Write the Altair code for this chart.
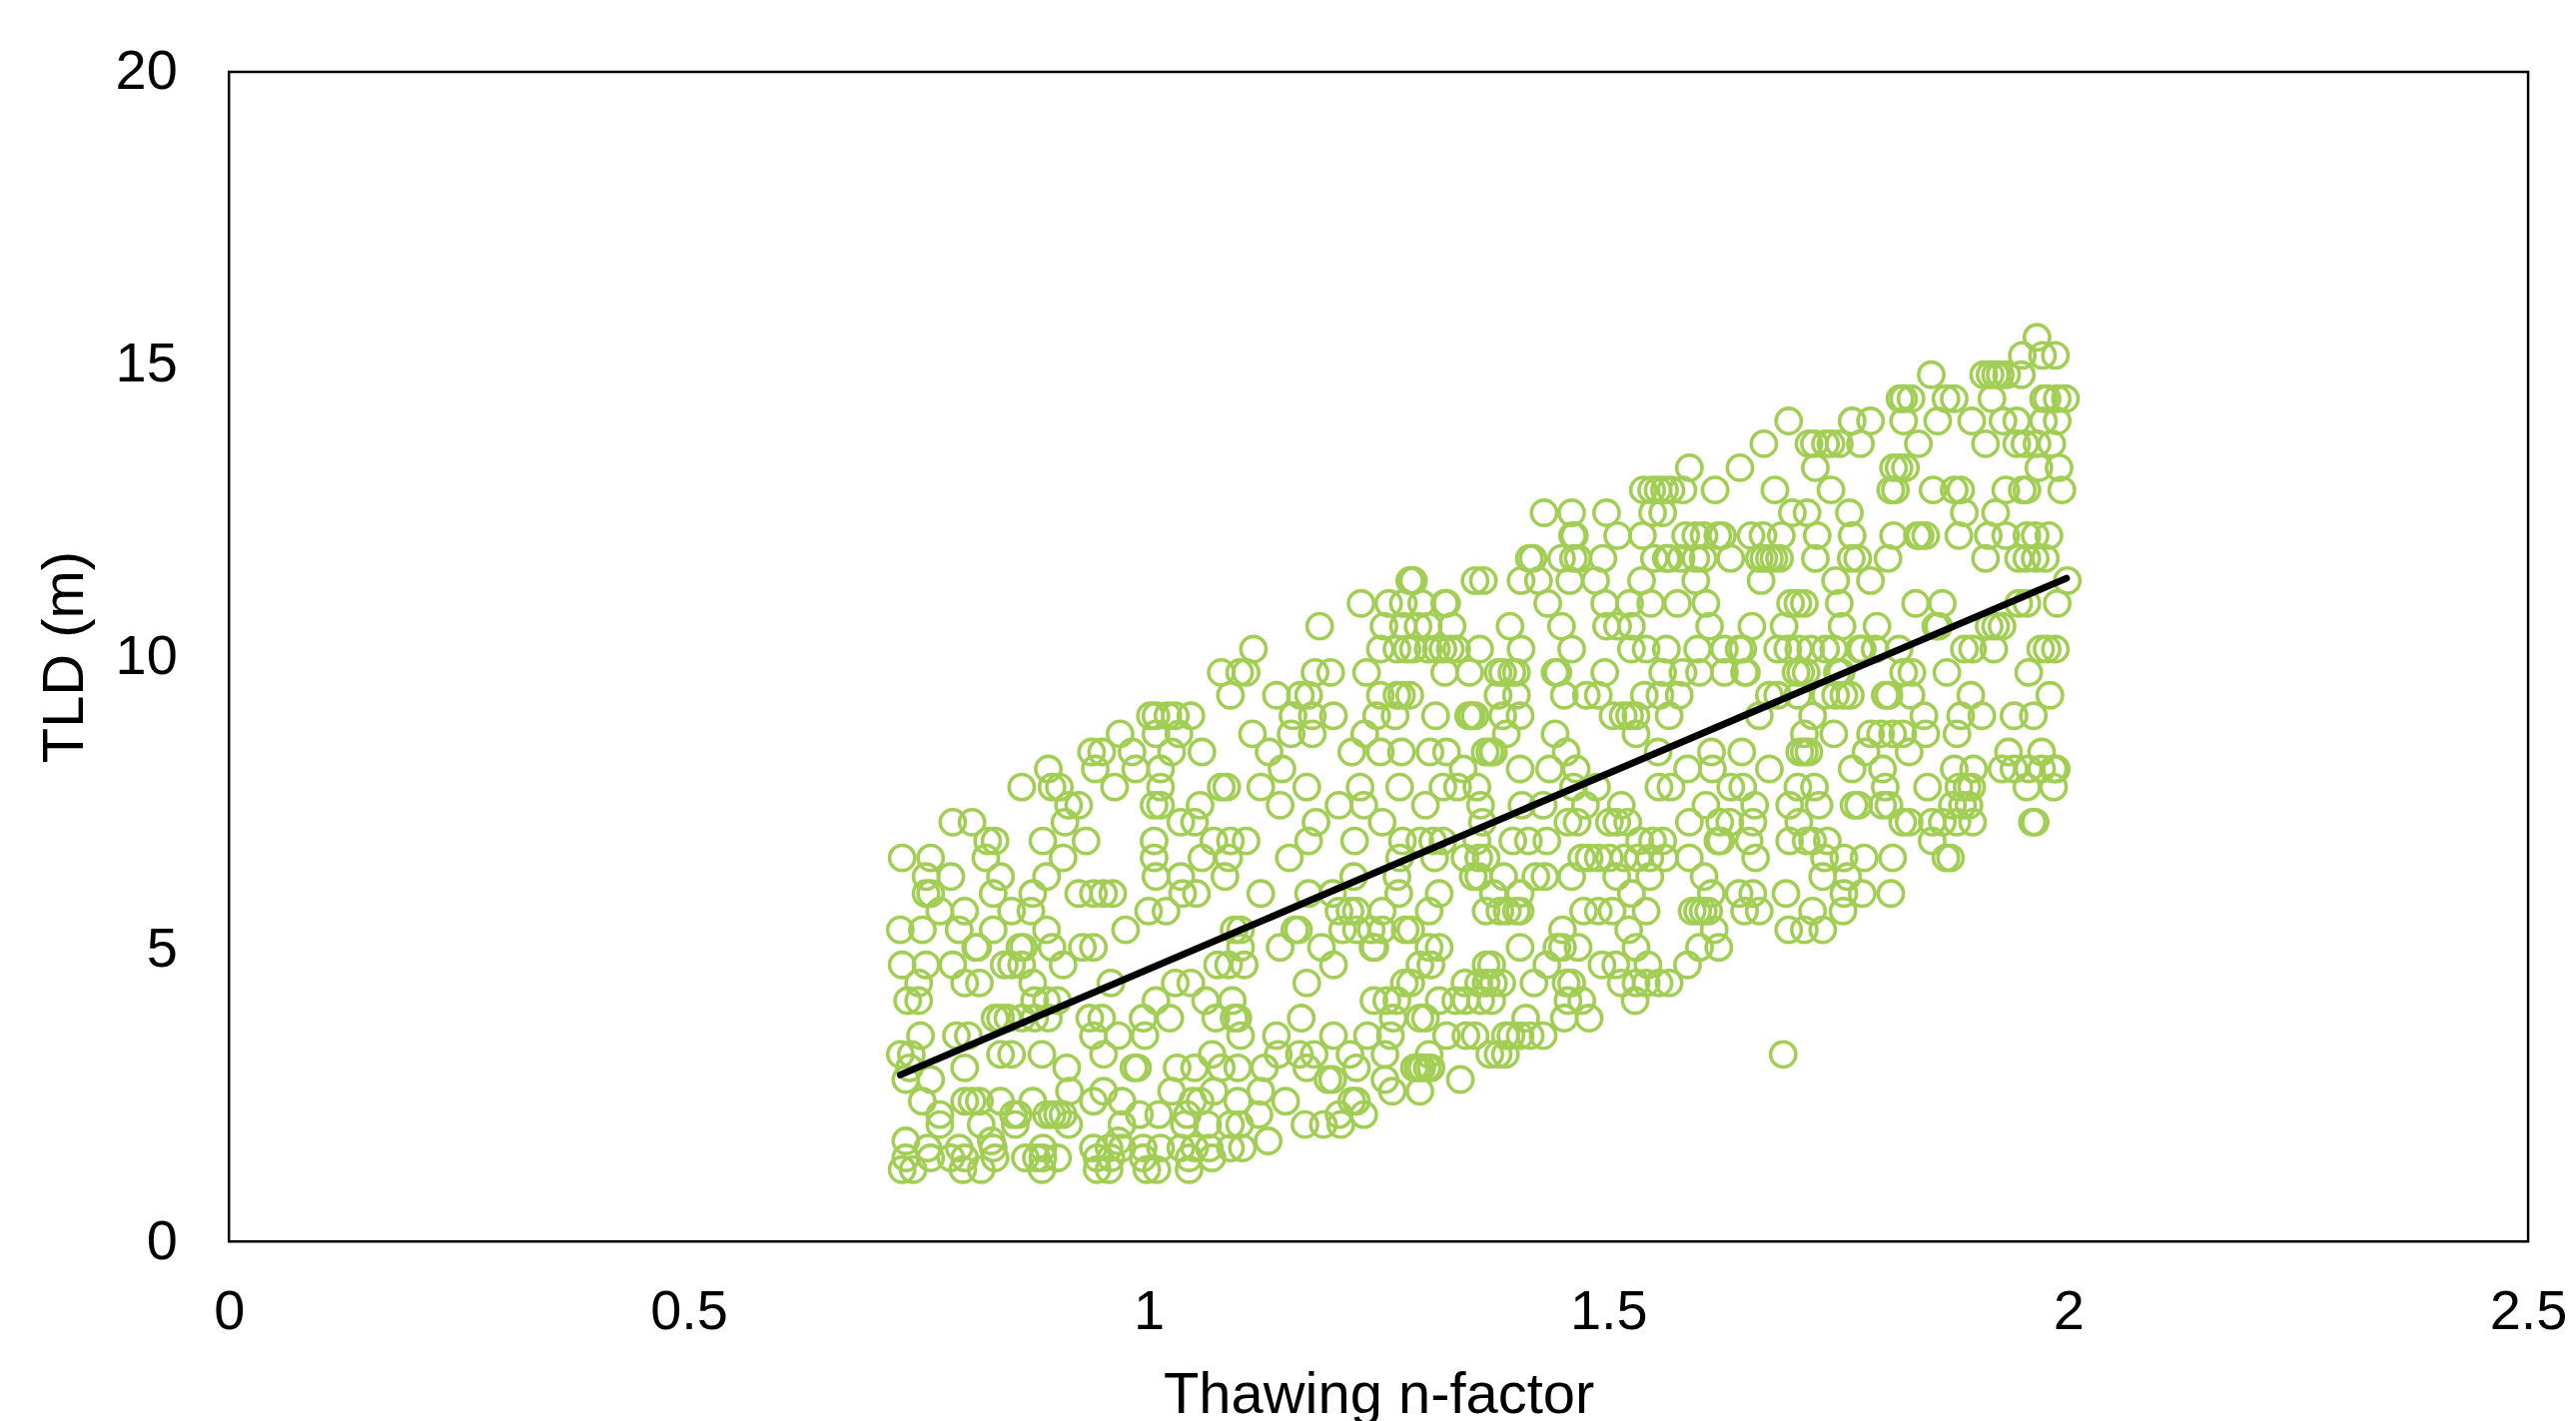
import altair as alt
import pandas as pd

ROWS = {
15.46: [1.966],
15.15: [1.950,1.972,1.986],
14.82: [1.851,1.908,1.915,1.921,1.926,1.933,1.949],
14.41: [1.817,1.821,1.829,1.867,1.876,1.917,1.973,1.977,1.988,1.997],
14.03: [1.696,1.765,1.785,1.821,1.858,1.895,1.929,1.944,1.973,1.988],
13.64: [1.669,1.718,1.724,1.736,1.742,1.751,1.774,1.837,1.910,1.944,1.953,1.966,1.982],
13.23: [1.588,1.643,1.725,1.810,1.816,1.823,1.968,1.990],
12.85: [1.538,1.547,1.554,1.561,1.568,1.581,1.616,1.681,1.742,1.807,1.812,1.853,1.876,1.883,1.932,1.950,1.955,1.993],
12.46: [1.430,1.460,1.498,1.548,1.559,1.700,1.716,1.762,1.887,1.921],
12.07: [1.461,1.463,1.510,1.537,1.584,1.595,1.604,1.619,1.624,1.655,1.668,1.688,1.727,1.765,1.810,1.836,1.839,1.845,1.881,1.913,1.932,1.955,1.964,1.979],
11.68: [1.414,1.418,1.449,1.462,1.467,1.494,1.550,1.563,1.566,1.579,1.595,1.603,1.633,1.664,1.669,1.675,1.680,1.686,1.725,1.764,1.771,1.804,1.910,1.946,1.955,1.964,1.975],
11.30: [1.284,1.286,1.288,1.355,1.364,1.405,1.424,1.458,1.486,1.536,1.595,1.666,1.747,1.785,1.999],
10.91: [1.231,1.261,1.277,1.297,1.322,1.324,1.434,1.496,1.523,1.546,1.575,1.606,1.698,1.706,1.713,1.751,1.834,1.863,1.946,1.955,1.988],
10.52: [1.186,1.256,1.277,1.293,1.304,1.330,1.393,1.449,1.498,1.510,1.525,1.610,1.656,1.691,1.754,1.792,1.856,1.859,1.914,1.921,1.928],
10.13: [1.114,1.252,1.270,1.281,1.288,1.304,1.313,1.320,1.328,1.335,1.360,1.405,1.460,1.525,1.541,1.563,1.597,1.626,1.642,1.646,1.684,1.695,1.707,1.720,1.736,1.745,1.773,1.776,1.790,1.816,1.887,1.896,1.919,1.970,1.977,1.986],
9.73: [1.079,1.099,1.106,1.181,1.198,1.237,1.322,1.349,1.380,1.385,1.395,1.400,1.442,1.445,1.496,1.559,1.581,1.599,1.626,1.648,1.650,1.704,1.709,1.715,1.749,1.753,1.821,1.830,1.868,1.957],
9.34: [1.089,1.139,1.165,1.174,1.252,1.270,1.275,1.284,1.380,1.400,1.452,1.476,1.489,1.539,1.556,1.577,1.675,1.684,1.706,1.736,1.747,1.756,1.763,1.801,1.805,1.829,1.894,1.980],
8.99: [1.002,1.008,1.021,1.029,1.046,1.157,1.178,1.201,1.248,1.268,1.312,1.348,1.351,1.355,1.385,1.404,1.505,1.516,1.523,1.530,1.566,1.664,1.722,1.843,1.883,1.906,1.941,1.962],
8.68: [0.969,1.008,1.033,1.113,1.155,1.178,1.235,1.389,1.442,1.530,1.713,1.745,1.785,1.796,1.809,1.820,1.845,1.879],
8.37: [0.938,0.949,0.982,1.025,1.058,1.131,1.221,1.252,1.275,1.306,1.324,1.366,1.371,1.375,1.454,1.554,1.612,1.645,1.708,1.713,1.718,1.780,1.827,1.935,1.971],
8.08: [0.891,0.942,0.986,1.013,1.145,1.342,1.404,1.436,1.465,1.586,1.613,1.675,1.765,1.798,1.876,1.897,1.928,1.941,1.957,1.971,1.984,1.987],
7.77: [0.862,0.895,0.903,0.963,1.013,1.079,1.085,1.122,1.172,1.230,1.273,1.320,1.336,1.357,1.462,1.487,1.555,1.568,1.633,1.646,1.706,1.724,1.801,1.847,1.881,1.890,1.895,1.955,1.984],
7.46: [0.913,0.924,1.006,1.013,1.056,1.143,1.207,1.234,1.301,1.361,1.406,1.429,1.475,1.514,1.606,1.659,1.697,1.729,1.767,1.772,1.798,1.805,1.874,1.885,1.892],
7.17: [0.787,0.808,0.909,1.035,1.050,1.182,1.254,1.363,1.456,1.466,1.501,1.509,1.521,1.588,1.621,1.632,1.657,1.707,1.820,1.827,1.852,1.863,1.879,1.896,1.961,1.964],
6.85: [0.825,0.833,0.885,0.932,1.006,1.071,1.089,1.106,1.174,1.224,1.276,1.295,1.309,1.320,1.357,1.396,1.413,1.433,1.534,1.548,1.559,1.619,1.622,1.653,1.697,1.715,1.722,1.738,1.852],
6.56: [0.732,0.763,0.823,0.907,1.006,1.058,1.087,1.153,1.273,1.311,1.344,1.359,1.367,1.471,1.479,1.489,1.501,1.517,1.532,1.545,1.561,1.588,1.660,1.735,1.756,1.778,1.809,1.867,1.872],
6.24: [0.758,0.785,0.839,0.889,1.008,1.035,1.083,1.223,1.27,1.353,1.359,1.386,1.421,1.431,1.460,1.509,1.545,1.604,1.733,1.760],
5.95: [0.758,0.763,0.831,0.874,0.924,0.940,0.951,0.961,1.037,1.052,1.122,1.174,1.2,1.272,1.316,1.375,1.404,1.525,1.612,1.642,1.657,1.693,1.756,1.776,1.807],
5.65: [0.773,0.8,0.851,0.872,1.0,1.019,1.207,1.219,1.226,1.254,1.305,1.367,1.382,1.390,1.400,1.404,1.473,1.489,1.504,1.541,1.591,1.597,1.603,1.609,1.648,1.664,1.722,1.755],
5.33: [0.73,0.754,0.794,0.831,0.889,0.975,1.093,1.1,1.159,1.163,1.211,1.226,1.242,1.254,1.279,1.285,1.450,1.522,1.615,1.696,1.713,1.733],
5.03: [0.812,0.814,0.860,0.864,0.895,0.928,0.94,1.1,1.143,1.188,1.244,1.246,1.305,1.316,1.404,1.444,1.450,1.467,1.53,1.599,1.620],
4.73: [0.732,0.758,0.787,0.843,0.851,0.862,0.907,1.075,1.087,1.104,1.201,1.295,1.307,1.367,1.373,1.433,1.493,1.508,1.543,1.586],
4.42: [0.75,0.8,0.816,0.874,0.959,1.029,1.046,1.172,1.278,1.285,1.344,1.359,1.367,1.375,1.384,1.419,1.454,1.460,1.514,1.530,1.541,1.555,1.566],
4.12: [0.738,0.75,0.876,0.889,0.901,1.008,1.062,1.091,1.245,1.259,1.27,1.316,1.334,1.345,1.361,1.373,1.456,1.471,1.529],
3.82: [0.833,0.839,0.847,0.862,0.876,0.891,0.936,0.949,0.994,1.023,1.073,1.093,1.097,1.166,1.266,1.295,1.301,1.41,1.452,1.479],
3.52: [0.752,0.791,0.804,0.94,0.967,0.996,1.1,1.139,1.201,1.238,1.263,1.324,1.345,1.355,1.388,1.394,1.404,1.415,1.429],
3.2: [0.73,0.742,0.839,0.851,0.884,0.951,1.069,1.141,1.164,1.18,1.219,1.257,1.305,1.371,1.380,1.388,1.690],
2.97: [0.74,0.80,0.911,0.984,0.988,1.031,1.05,1.079,1.097,1.126,1.172,1.226,1.289,1.293,1.297,1.303,1.307],
2.77: [0.736,0.763,1.195,1.2,1.257,1.339],
2.57: [0.914,0.951,1.025,1.071,1.122,1.265,1.295],
2.4: [0.754,0.8,0.808,0.816,0.839,0.874,0.94,0.971,1.048,1.056,1.097,1.149,1.221,1.226],
2.17: [0.773,0.853,0.858,0.889,0.895,0.901,0.907,0.99,1.011,1.042,1.12,1.207,1.234],
2.0: [0.773,0.818,0.855,0.913,0.971,1.039,1.064,1.089,1.099,1.170,1.19,1.209],
1.72: [0.736,0.829,0.967,1.13],
1.6: [0.76,0.794,0.831,0.885,0.94,0.957,0.971,0.994,1.013,1.035,1.05,1.066,1.089,1.102],
1.43: [0.736,0.763,0.785,0.8,0.833,0.866,0.878,0.885,0.901,0.944,0.959,0.994,1.044,1.069],
1.23: [0.732,0.744,0.798,0.818,0.884,0.944,0.957,0.998,1.009,1.044],
}
trend_x = [0.73, 1.998]
trend_y = [2.85, 11.34]
x_ticks = [0, 0.5, 1, 1.5, 2, 2.5]
y_ticks = [0, 5, 10, 15, 20]

pts = pd.DataFrame([{"x": x, "y": y} for y, xs in ROWS.items() for x in xs])
trend = pd.DataFrame({"x": trend_x, "y": trend_y})

FONT = "Liberation Sans"
xenc = alt.X("x:Q", scale=alt.Scale(domain=[0, 2.5], nice=False),
             axis=alt.Axis(title="Thawing n-factor", values=x_ticks, format="~g", grid=False,
                           domain=False, ticks=False, labelFontSize=56, titleFontSize=58,
                           labelPadding=43, titlePadding=27, labelColor="black", titleColor="black",
                           titleFontWeight="normal", labelFont=FONT, titleFont=FONT,
                           labelOverlap=False, labelFlush=False))
yenc = alt.Y("y:Q", scale=alt.Scale(domain=[0, 20], nice=False),
             axis=alt.Axis(title="TLD (m)", values=y_ticks, format="~g", grid=False,
                           domain=False, ticks=False, labelFontSize=56, titleFontSize=58,
                           labelPadding=52, titlePadding=21, labelColor="black", titleColor="black",
                           titleFontWeight="normal", labelFont=FONT, titleFont=FONT,
                           labelOverlap=False))

points = alt.Chart(pts).mark_point(shape="circle", filled=False, size=640, strokeWidth=3.6,
                                   color="#A2CE55", opacity=1).encode(x=xenc, y=yenc)
line = alt.Chart(trend).mark_line(color="black", strokeWidth=7, strokeCap="round").encode(x="x:Q", y="y:Q")

chart = (points + line).properties(
    width=2305, height=1173, background="white",
    autosize=alt.AutoSizeParams(type="none"),
    padding={"left": 221.5, "top": 63, "right": 40, "bottom": 179},
).configure_view(stroke="black", strokeWidth=2.5)

chart.save("out.html", embed_options={"renderer": "svg", "actions": False})
